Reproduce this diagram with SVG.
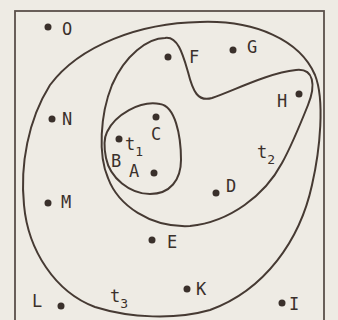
<svg xmlns="http://www.w3.org/2000/svg" width="338" height="320" viewBox="0 0 338 320">
<style>
.bg{fill:#eeebe4}
.frame{fill:none;stroke:#5a504a;stroke-width:1.8}
.curve{fill:none;stroke:#463a33;stroke-width:2}
.dot{fill:#3a302b}
.lbl{font-family:"DejaVu Sans Mono","Liberation Mono",monospace;font-size:17px;fill:#3a302b}
.sub{font-size:13px}
</style>
<rect class="bg" x="0" y="0" width="338" height="320"/>
<rect class="frame" x="15" y="11" width="309" height="320"/>
<g id="connectors">
<path id="t3" class="curve" d="M200,22 C255,20 300,40 315,75 C325,100 320,150 312,185 C300,240 265,290 210,310 C175,320 130,318 95,307 C55,292 28,250 24,205 C20,165 28,120 50,85 C80,45 140,23 200,22 Z"/>
<path id="t2" class="curve" d="M165,38 C178,36 183,55 188,72 C193,92 198,102 212,98 C235,90 268,73 296,70 C314,68 316,85 308,105 C300,125 292,145 282,163 C265,195 230,222 190,226 C150,228 118,205 108,178 C98,155 100,115 112,85 C125,55 148,38 165,38 Z"/>
<path id="t1" class="curve" d="M107,132 C115,115 140,100 160,104 C175,106 181,135 181,160 C181,180 170,194 150,194 C130,194 110,178 106,158 C104,148 104,138 107,132 Z"/>
</g>
<g id="region-labels">
<text class="lbl" x="125" y="150">t<tspan class="sub" dy="6">1</tspan></text>
<text class="lbl" x="257" y="158">t<tspan class="sub" dy="6">2</tspan></text>
<text class="lbl" x="110" y="302">t<tspan class="sub" dy="6">3</tspan></text>
</g>
<g id="O"><circle class="dot" cx="48" cy="27" r="3.5"/><text class="lbl" x="62" y="35">O</text></g>
<g id="F"><circle class="dot" cx="168" cy="57" r="3.5"/><text class="lbl" x="189" y="63">F</text></g>
<g id="G"><circle class="dot" cx="233" cy="50" r="3.5"/><text class="lbl" x="247" y="53">G</text></g>
<g id="H"><circle class="dot" cx="299" cy="94" r="3.5"/><text class="lbl" x="277" y="107">H</text></g>
<g id="N"><circle class="dot" cx="52" cy="119" r="3.5"/><text class="lbl" x="62" y="125">N</text></g>
<g id="C"><circle class="dot" cx="156" cy="117" r="3.5"/><text class="lbl" x="151" y="140">C</text></g>
<g id="B"><circle class="dot" cx="119" cy="139" r="3.5"/><text class="lbl" x="111" y="167">B</text></g>
<g id="A"><circle class="dot" cx="154" cy="173" r="3.5"/><text class="lbl" x="129" y="177">A</text></g>
<g id="D"><circle class="dot" cx="216" cy="193" r="3.5"/><text class="lbl" x="226" y="192">D</text></g>
<g id="M"><circle class="dot" cx="48" cy="203" r="3.5"/><text class="lbl" x="61" y="208">M</text></g>
<g id="E"><circle class="dot" cx="152" cy="240" r="3.5"/><text class="lbl" x="167" y="248">E</text></g>
<g id="K"><circle class="dot" cx="187" cy="289" r="3.5"/><text class="lbl" x="196" y="295">K</text></g>
<g id="L"><circle class="dot" cx="61" cy="306" r="3.5"/><text class="lbl" x="32" y="307">L</text></g>
<g id="I"><circle class="dot" cx="282" cy="303" r="3.5"/><text class="lbl" x="289" y="310">I</text></g>
</svg>
